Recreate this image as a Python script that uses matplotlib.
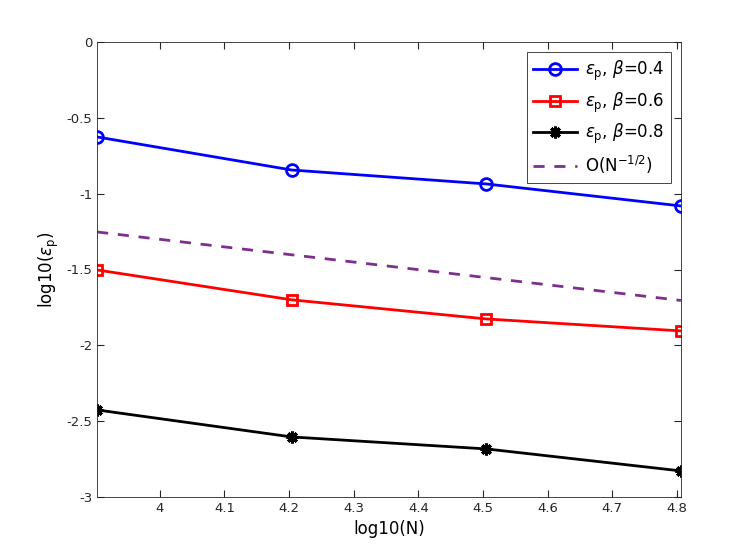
import matplotlib
matplotlib.use("Agg")
import matplotlib.pyplot as plt
import numpy as np

# data
N = np.array([8000, 16000, 32000, 64000])
err_b04 = [-0.626, -0.844, -0.936, -1.081]
err_b06 = [-1.503, -1.700, -1.826, -1.905]
err_b08 = [-2.426, -2.604, -2.683, -2.828]
ref_const = 0.699

x = np.log10(N)
ref = -0.5 * x + ref_const

plt.rcParams['font.family'] = 'DejaVu Sans'
plt.rcParams['mathtext.fontset'] = 'dejavusans'

fig = plt.figure(figsize=(7.47, 5.6), dpi=100)
ax = fig.add_axes([0.13, 0.1125, 0.7816, 0.8125])

ax.plot(x, err_b04, '-o', color='blue', lw=2, ms=8.5, mfc='none', mew=2,
        label=r'$\epsilon_{\rm p}$, $\beta$=0.4')
ax.plot(x, err_b06, '-s', color='red', lw=2, ms=7.5, mfc='none', mew=2,
        label=r'$\epsilon_{\rm p}$, $\beta$=0.6')
ax.plot(x, err_b08, '-', marker=(8, 2, 0), color='black', lw=2, ms=8.5, mew=2.2,
        label=r'$\epsilon_{\rm p}$, $\beta$=0.8')
ax.plot(x, ref, '--', color='#7E2F8E', lw=2, dashes=(4, 3.5),
        label=r'O(N$^{-1/2}$)')

ax.set_xlim(x[0], x[-1])
ax.set_ylim(-3, 0)
ax.set_xticks([4, 4.1, 4.2, 4.3, 4.4, 4.5, 4.6, 4.7, 4.8])
ax.set_xticklabels(['4', '4.1', '4.2', '4.3', '4.4', '4.5', '4.6', '4.7', '4.8'])
ax.set_yticks([-3, -2.5, -2, -1.5, -1, -0.5, 0])
ax.set_yticklabels(['-3', '-2.5', '-2', '-1.5', '-1', '-0.5', '0'])
ax.tick_params(direction='in', top=True, right=True, labelsize=9.5,
               colors='#262626', length=5)
for s in ax.spines.values():
    s.set_color('#262626')
    s.set_linewidth(0.6)

ax.set_xlabel('log10(N)', fontsize=12)
ax.set_ylabel(r'log10($\epsilon_{\rm p}$)', fontsize=12)

leg = ax.legend(loc='upper right', fontsize=12, fancybox=False,
                edgecolor='#262626', framealpha=1, handlelength=2.6,
                borderaxespad=0.6, labelspacing=0.45, handletextpad=0.5)
leg.get_frame().set_linewidth(0.6)

fig.savefig('out.png', dpi=100)
